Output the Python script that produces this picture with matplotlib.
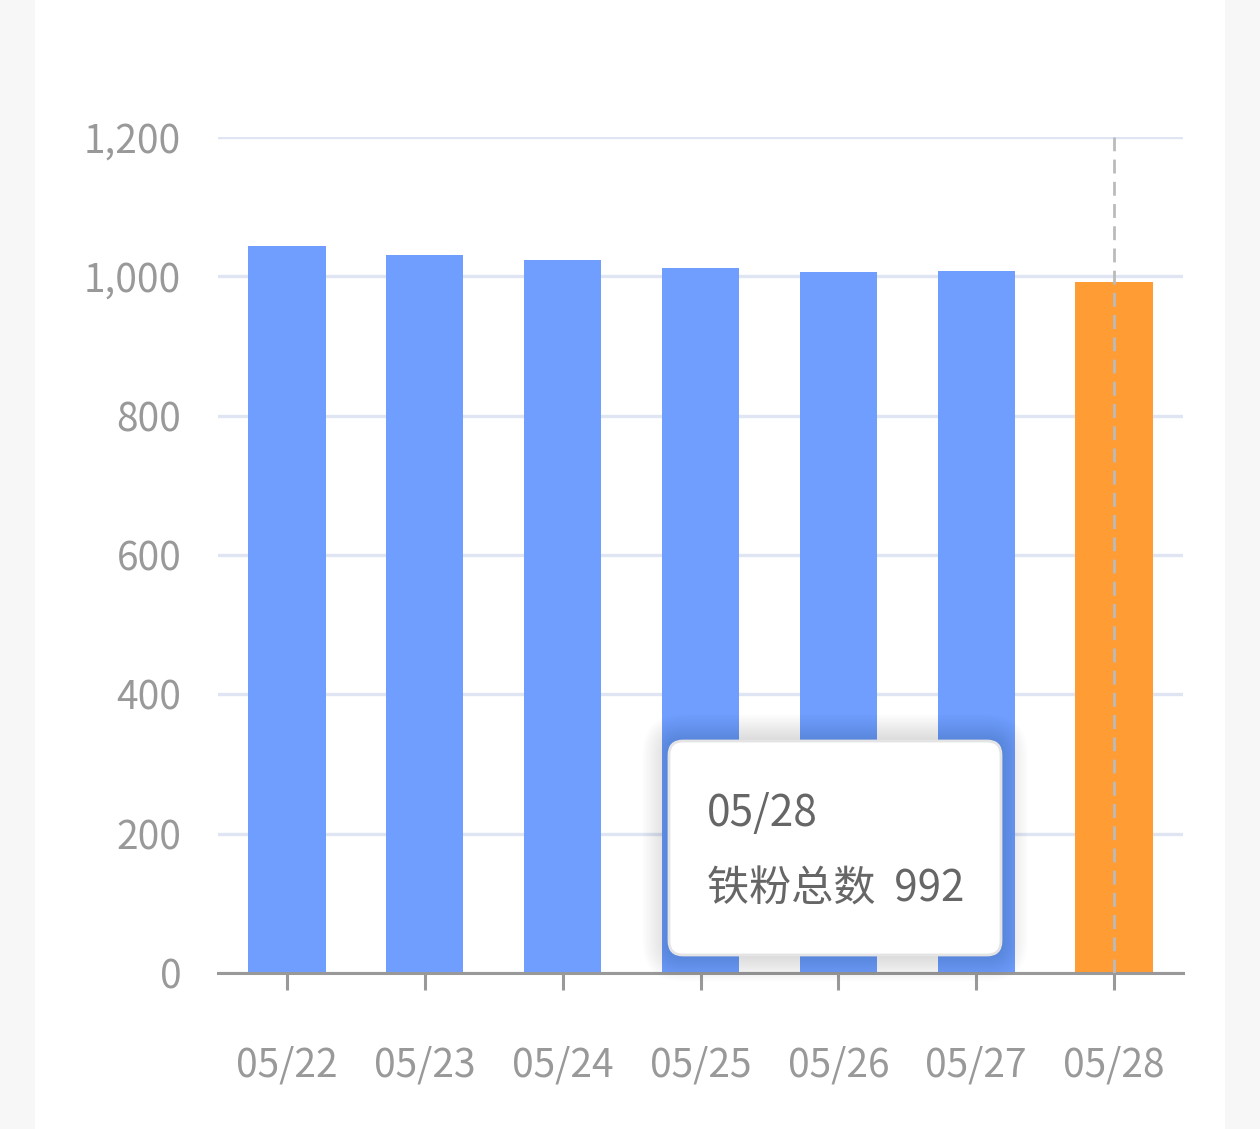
import numpy as np
import matplotlib
matplotlib.use("Agg")
import matplotlib.pyplot as plt
from matplotlib.patches import FancyBboxPatch, Rectangle
from matplotlib.ticker import FuncFormatter

plt.rcParams['font.family'] = ['Noto Sans CJK SC', 'DejaVu Sans']

# data
dates = ["05/22", "05/23", "05/24", "05/25", "05/26", "05/27", "05/28"]
fans = [1043, 1030, 1023, 1012, 1006, 1007, 992]
highlight = "05/28"
tip_label = "铁粉总数"

blue = "#709eff"
orange = "#ff9c33"
grey_txt = "#999999"

W, H = 1260, 1129
fig = plt.figure(figsize=(W / 100, H / 100), dpi=100)
fig.patch.set_facecolor("#f7f7f7")

# white card behind the chart
fig.add_artist(Rectangle((35 / W, 0), (1225 - 35) / W, 1, transform=fig.transFigure,
                         facecolor="white", edgecolor="none", zorder=0))

ax = fig.add_axes([218 / W, (H - 973) / H, (1183 - 218) / W, (973 - 137) / H])
ax.set_facecolor("none")

x = np.arange(len(dates))
colors = [orange if d == highlight else blue for d in dates]
ax.bar(x, fans, width=0.56, color=colors, zorder=3)

ax.set_xlim(-0.5, len(dates) - 0.5)
ax.set_ylim(0, 1200)
ax.set_yticks(np.arange(0, 1201, 200))
ax.yaxis.set_major_formatter(FuncFormatter(lambda v, p: f"{int(v):,}"))
ax.set_xticks(x)
ax.set_xticklabels(dates)

ax.grid(axis="y", color="#dfe5f2", linewidth=2.4, zorder=1)
ax.set_axisbelow(True)
for s in ["top", "right", "left"]:
    ax.spines[s].set_visible(False)
ax.spines["bottom"].set_color("#999999")
ax.spines["bottom"].set_linewidth(2.2)
ax.spines["bottom"].set_zorder(4)

ax.tick_params(axis="y", length=0, pad=26.5, labelsize=28, labelcolor=grey_txt)
ax.tick_params(axis="x", length=12, width=2.2, color="#999999", pad=40,
               labelsize=28, labelcolor=grey_txt)

# hover pointer line
hi = dates.index(highlight)
ax.axvline(hi, color="#bbbbbb", linestyle=(0, (5, 3)), linewidth=2, zorder=5)

# tooltip with soft shadow
tx0, ty0, tw, th = 669 / W, (H - 955) / H, (1001 - 669) / W, (955 - 741) / H
for i in range(12, 0, -1):
    g = i * 2.2
    fig.add_artist(FancyBboxPatch((tx0 - g / W, ty0 - g / H), tw + 2 * g / W, th + 2 * g / H,
                                  boxstyle=f"round,pad=0,rounding_size={(14 + g) / W}",
                                  transform=fig.transFigure, facecolor="black",
                                  edgecolor="none", alpha=0.011, zorder=6,
                                  mutation_aspect=W / H))
fig.add_artist(FancyBboxPatch((tx0, ty0), tw, th,
                              boxstyle=f"round,pad=0,rounding_size={14 / W}",
                              transform=fig.transFigure, facecolor="white",
                              edgecolor="#e4e4e4", linewidth=2, zorder=7,
                              mutation_aspect=W / H))
fig.text(707 / W, (H - 814) / H, highlight, fontsize=30.5, color="#666666",
         va="center", ha="left", zorder=8)
fig.text(707 / W, (H - 890) / H, f"{tip_label}  {fans[hi]}", fontsize=30.3,
         color="#666666", va="center", ha="left", zorder=8)

fig.savefig("out.png", dpi=100, facecolor=fig.get_facecolor())
